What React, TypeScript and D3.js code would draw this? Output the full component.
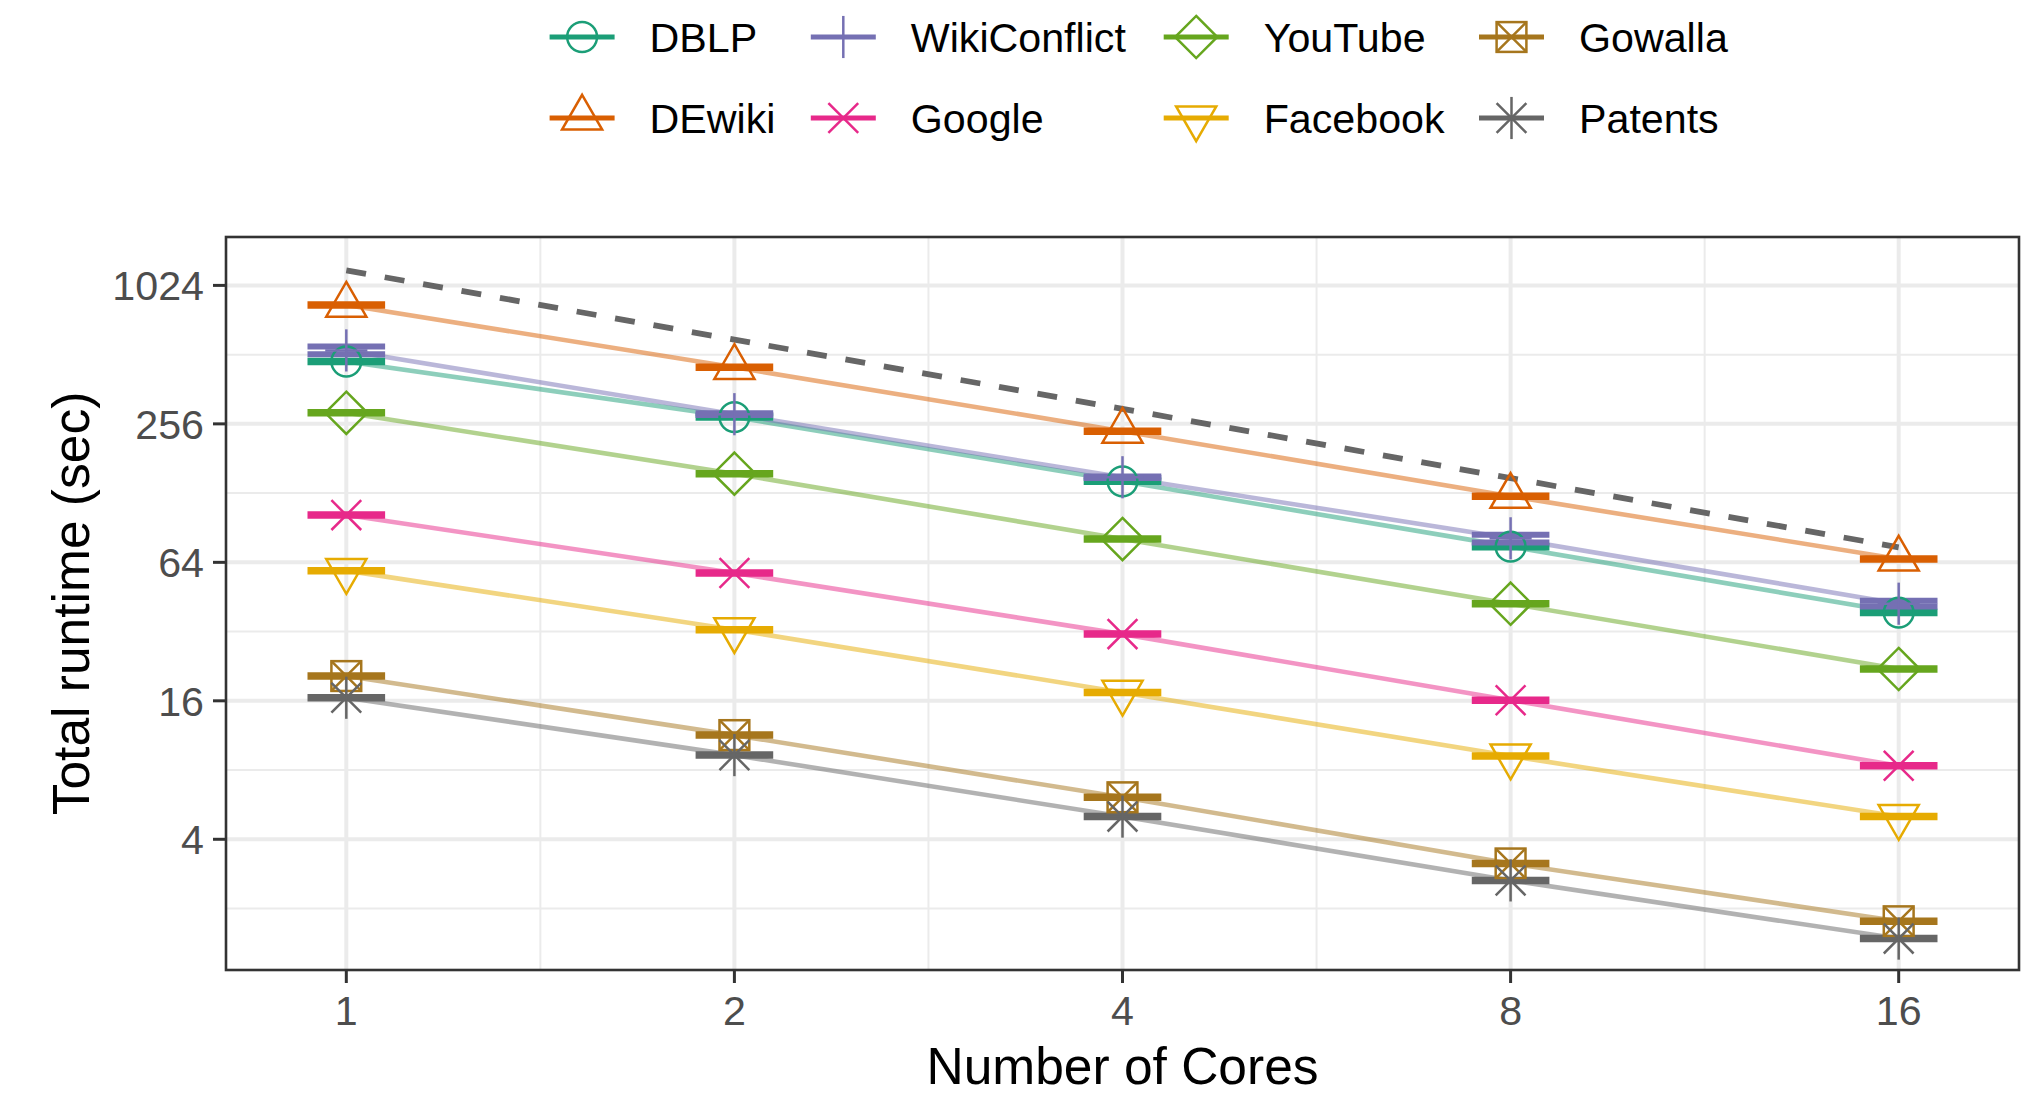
import React from 'react';
import * as d3 from 'd3';

// ---------- data ----------
const cores = [1, 2, 4, 8, 16];
const xTickLabels = ['1', '2', '4', '8', '16'];
const yTicks = [4, 16, 64, 256, 1024];
const yMinorTicks = [2, 8, 32, 128, 512];
const xMinorTicks = [1.4142, 2.8284, 5.6569, 11.3137];

const seriesNames = ['DBLP', 'DEwiki', 'WikiConflict', 'Google', 'YouTube', 'Facebook', 'Gowalla', 'Patents'];

const dblp = [478, 274, 144, 74.9, 38.7];
const dewiki = [841, 451, 238, 124, 66.2];
const wikiConflict = [534, 282, 150, 81.4, 42.3];
const wikiConflictLo = [514, 280, 149, 78.1, 41.1];
const wikiConflictHi = [555, 285, 151, 84.4, 43.6];
const google = [102.7, 57.5, 31.2, 16.1, 8.35];
const youtube = [286, 155.5, 80.8, 42.3, 22.0];
const facebook = [58.9, 32.6, 17.4, 9.2, 5.02];
const gowalla = [20.5, 11.35, 6.09, 3.14, 1.76];
const patents = [16.5, 9.29, 5.02, 2.65, 1.48];
const idealScaling = [1190, 595, 297.5, 148.75, 74.4];

const seriesValues = [dblp, dewiki, wikiConflict, google, youtube, facebook, gowalla, patents];

// ---------- styles ----------
const colors = ['#1B9E77', '#D95F02', '#7570B3', '#E7298A', '#66A61E', '#E6AB02', '#A6761D', '#666666'];
const shapes = ['circle', 'triUp', 'plus', 'cross', 'diamond', 'triDown', 'squareX', 'star'];

const W = 2034;
const H = 1096;
const panel = { left: 226, right: 2019, top: 237, bottom: 970 };
const FONT = "'Liberation Sans', Arial, Helvetica, sans-serif";
const R = 14.9;
const MSW = 2.5;

const x = d3.scaleLog().base(2).domain([Math.pow(2, -0.31), Math.pow(2, 4.31)]).range([panel.left, panel.right]);
const y = d3.scaleLog().base(2).domain([Math.pow(2, 0.112), Math.pow(2, 10.699)]).range([panel.bottom, panel.top]);

function Marker({ shape, cx, cy, color }: { shape: string; cx: number; cy: number; color: string }) {
  const common = { fill: 'none', stroke: color, strokeWidth: MSW, strokeLinejoin: 'miter' as const };
  const s2 = Math.SQRT2 * R;
  switch (shape) {
    case 'circle':
      return <circle cx={cx} cy={cy} r={R} {...common} />;
    case 'triUp': {
      const pts = [[cx, cy - 1.555 * R], [cx + 1.347 * R, cy + 0.778 * R], [cx - 1.347 * R, cy + 0.778 * R]];
      return <polygon points={pts.map(p => p.join(',')).join(' ')} {...common} />;
    }
    case 'triDown': {
      const pts = [[cx, cy + 1.555 * R], [cx + 1.347 * R, cy - 0.778 * R], [cx - 1.347 * R, cy - 0.778 * R]];
      return <polygon points={pts.map(p => p.join(',')).join(' ')} {...common} />;
    }
    case 'diamond': {
      const pts = [[cx, cy - s2], [cx + s2, cy], [cx, cy + s2], [cx - s2, cy]];
      return <polygon points={pts.map(p => p.join(',')).join(' ')} {...common} />;
    }
    case 'plus':
      return (
        <g {...common}>
          <line x1={cx - s2} y1={cy} x2={cx + s2} y2={cy} />
          <line x1={cx} y1={cy - s2} x2={cx} y2={cy + s2} />
        </g>
      );
    case 'cross':
      return (
        <g {...common}>
          <line x1={cx - R} y1={cy - R} x2={cx + R} y2={cy + R} />
          <line x1={cx - R} y1={cy + R} x2={cx + R} y2={cy - R} />
        </g>
      );
    case 'squareX':
      return (
        <g {...common}>
          <rect x={cx - R} y={cy - R} width={2 * R} height={2 * R} />
          <line x1={cx - R} y1={cy - R} x2={cx + R} y2={cy + R} />
          <line x1={cx - R} y1={cy + R} x2={cx + R} y2={cy - R} />
        </g>
      );
    case 'star':
      return (
        <g {...common}>
          <line x1={cx - R} y1={cy - R} x2={cx + R} y2={cy + R} />
          <line x1={cx - R} y1={cy + R} x2={cx + R} y2={cy - R} />
          <line x1={cx - s2} y1={cy} x2={cx + s2} y2={cy} />
          <line x1={cx} y1={cy - s2} x2={cx} y2={cy + s2} />
        </g>
      );
    default:
      return null;
  }
}

export default function App() {
  const line = d3.line<number>().x((_, i) => x(cores[i])).y(v => y(v));
  const halfBar = (c: number) => [x(c * Math.pow(2, -0.1)), x(c * Math.pow(2, 0.1))];

  const legendColX = [549.6, 810.8, 1163.7, 1479];
  const legendRowY = [37, 118];
  const keyW = 65;

  return (
    <svg width={W} height={H} style={{ position: 'absolute', left: 0, top: 0, display: 'block', background: '#fff' }} fontFamily={FONT}>
      <rect x={0} y={0} width={W} height={H} fill="#fff" />
      {/* panel background & grid */}
      <rect x={panel.left} y={panel.top} width={panel.right - panel.left} height={panel.bottom - panel.top} fill="#fff" />
      <g stroke="#EBEBEB">
        {yMinorTicks.map(t => (
          <line key={'ym' + t} x1={panel.left} x2={panel.right} y1={y(t)} y2={y(t)} strokeWidth={2} />
        ))}
        {xMinorTicks.map(t => (
          <line key={'xm' + t} y1={panel.top} y2={panel.bottom} x1={x(t)} x2={x(t)} strokeWidth={2} />
        ))}
        {yTicks.map(t => (
          <line key={'yM' + t} x1={panel.left} x2={panel.right} y1={y(t)} y2={y(t)} strokeWidth={4} />
        ))}
        {cores.map(t => (
          <line key={'xM' + t} y1={panel.top} y2={panel.bottom} x1={x(t)} x2={x(t)} strokeWidth={4} />
        ))}
      </g>

      {/* series lines */}
      {seriesValues.map((vals, si) => (
        <path key={'l' + si} d={line(vals) || ''} fill="none" stroke={colors[si]} strokeOpacity={0.5} strokeWidth={4.6} />
      ))}

      {/* ideal scaling dashed line */}
      <path d={line(idealScaling) || ''} fill="none" stroke="#666666" strokeWidth={5.8} strokeDasharray="20,19" />

      {/* bars */}
      {seriesValues.map((vals, si) =>
        vals.map((v, i) => {
          const [xa, xb] = halfBar(cores[i]);
          if (si === 2) {
            return (
              <g key={'b' + si + '-' + i} stroke={colors[si]} strokeWidth={6}>
                <line x1={xa} x2={xb} y1={y(wikiConflictHi[i])} y2={y(wikiConflictHi[i])} />
                <line x1={xa} x2={xb} y1={y(wikiConflictLo[i])} y2={y(wikiConflictLo[i])} />
              </g>
            );
          }
          return <line key={'b' + si + '-' + i} x1={xa} x2={xb} y1={y(v)} y2={y(v)} stroke={colors[si]} strokeWidth={7.5} />;
        })
      )}

      {/* points */}
      {seriesValues.map((vals, si) =>
        vals.map((v, i) => (
          <Marker key={'p' + si + '-' + i} shape={shapes[si]} cx={x(cores[i])} cy={y(v)} color={colors[si]} />
        ))
      )}

      {/* panel border */}
      <rect x={panel.left} y={panel.top} width={panel.right - panel.left} height={panel.bottom - panel.top} fill="none" stroke="#333333" strokeWidth={2.6} />

      {/* y axis */}
      {yTicks.map(t => (
        <g key={'yt' + t}>
          <line x1={panel.left - 13} x2={panel.left} y1={y(t)} y2={y(t)} stroke="#333333" strokeWidth={3} />
          <text x={panel.left - 22} y={y(t)} dy="0.36em" textAnchor="end" fontSize={41.2} fill="#4D4D4D">{t}</text>
        </g>
      ))}
      {/* x axis */}
      {cores.map((c, i) => (
        <g key={'xt' + c}>
          <line x1={x(c)} x2={x(c)} y1={panel.bottom} y2={panel.bottom + 13} stroke="#333333" strokeWidth={3} />
          <text x={x(c)} y={1025} textAnchor="middle" fontSize={41.2} fill="#4D4D4D">{xTickLabels[i]}</text>
        </g>
      ))}

      {/* axis titles */}
      <text x={(panel.left + panel.right) / 2} y={1084} textAnchor="middle" fontSize={51.5} fill="#000">Number of Cores</text>
      <text transform={`translate(89, ${(panel.top + panel.bottom) / 2}) rotate(-90)`} textAnchor="middle" fontSize={51.5} fill="#000">Total runtime (sec)</text>

      {/* legend */}
      {seriesNames.map((name, si) => {
        const col = Math.floor(si / 2);
        const row = si % 2;
        const kx = legendColX[col];
        const ky = legendRowY[row];
        return (
          <g key={'lg' + si}>
            <line x1={kx} x2={kx + keyW} y1={ky} y2={ky} stroke={colors[si]} strokeWidth={5} />
            <Marker shape={shapes[si]} cx={kx + keyW / 2} cy={ky} color={colors[si]} />
            <text x={kx + 100} y={ky} dy="0.36em" fontSize={41.2} fill="#000">{name}</text>
          </g>
        );
      })}
    </svg>
  );
}
